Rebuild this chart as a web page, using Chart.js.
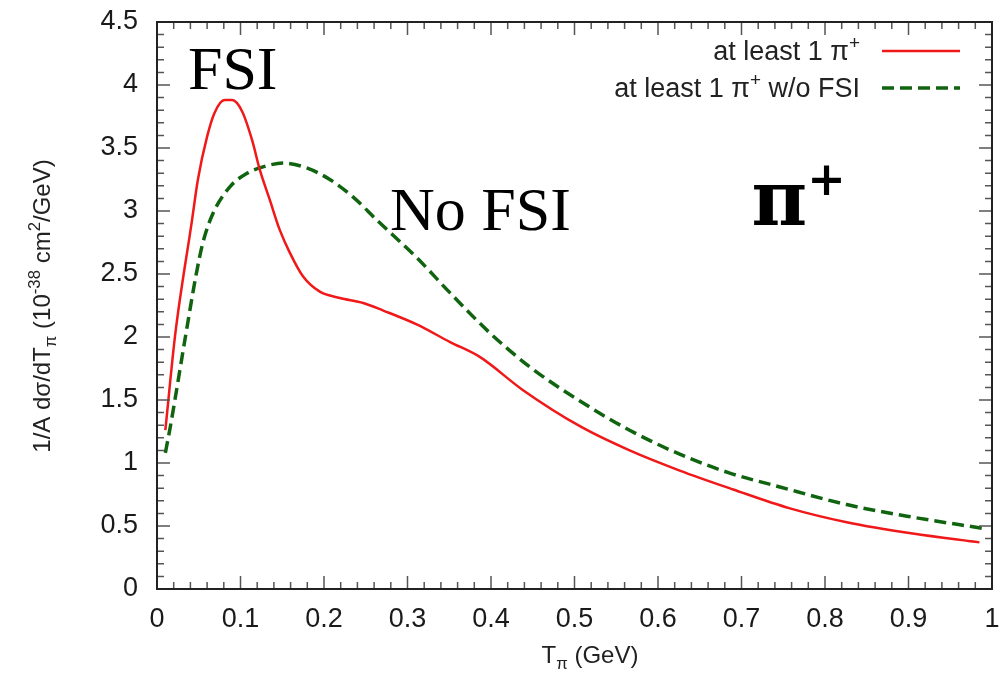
<!DOCTYPE html>
<html>
<head>
<meta charset="utf-8">
<script src="https://cdn.jsdelivr.net/npm/chart.js@4"></script>
<style>
  html, body { margin: 0; padding: 0; background: #fff; }
  #wrap { width: 1000px; height: 678px; }
</style>
</head>
<body>
<div id="wrap"><canvas id="chart" width="1000" height="678"></canvas></div>
<script>
// T_pi values (GeV) and cross sections
const fsiT   = [0.010, 0.022, 0.042, 0.049, 0.060, 0.069, 0.081, 0.090, 0.102, 0.114, 0.123, 0.135, 0.147, 0.159, 0.175, 0.195, 0.219, 0.247, 0.271, 0.311, 0.351, 0.387, 0.438, 0.507, 0.566, 0.626, 0.690, 0.758, 0.826, 0.905, 0.985];
const fsiY   = [1.26, 2.03, 2.93, 3.25, 3.59, 3.78, 3.88, 3.88, 3.79, 3.56, 3.33, 3.09, 2.85, 2.67, 2.48, 2.36, 2.31, 2.27, 2.21, 2.10, 1.96, 1.84, 1.58, 1.29, 1.10, 0.94, 0.79, 0.64, 0.53, 0.44, 0.37];
const noFsiT = [0.010, 0.016, 0.034, 0.047, 0.055, 0.067, 0.087, 0.108, 0.127, 0.151, 0.180, 0.207, 0.235, 0.263, 0.311, 0.351, 0.399, 0.447, 0.507, 0.566, 0.626, 0.686, 0.746, 0.826, 0.905, 0.990];
const noFsiY = [1.08, 1.29, 2.00, 2.50, 2.75, 2.98, 3.19, 3.30, 3.35, 3.38, 3.34, 3.25, 3.11, 2.93, 2.63, 2.35, 2.03, 1.76, 1.49, 1.26, 1.07, 0.92, 0.81, 0.67, 0.57, 0.48];

const xTicks = [0, 0.1, 0.2, 0.3, 0.4, 0.5, 0.6, 0.7, 0.8, 0.9, 1];
const yTicks = [0, 0.5, 1, 1.5, 2, 2.5, 3, 3.5, 4, 4.5];
const xMinorStep = 0.02;
const yMinorStep = 0.1;

const seriesLabels = ['at least 1 \u03c0', 'at least 1 \u03c0'];
const seriesLabelTails = ['', ' w/o FSI'];

// text labels inside the plot, anchored in data units
const notes = [
    { x: 0.037, y: 3.97, text: 'FSI' },
    { x: 0.279, y: 2.85, text: 'No FSI' }
];
const piNote = { x: 0.712, y: 2.89 };

const SANS = '"Liberation Sans", Arial, sans-serif';
const SERIF = '"Liberation Serif", "Times New Roman", serif';
const SERIF_PI = '"DejaVu Serif", serif';

function toPoints(xs, ys) {
    return xs.map((x, i) => ({ x: x, y: ys[i] }));
}

// draws a list of text pieces [{t, mode}] where mode is 'n', 'sup' or 'sub'
function drawRich(ctx, parts, x, y, size) {
    let cx = x;
    parts.forEach(p => {
        let s = size, dy = 0;
        if (p.mode === 'sup') { s = size * 0.7; dy = -size * 0.42; }
        if (p.mode === 'sub') { s = size * 0.7; dy = size * 0.25; }
        ctx.font = s + 'px ' + SANS;
        ctx.fillText(p.t, cx, y + dy);
        cx += ctx.measureText(p.t).width;
    });
    return cx - x;
}

function measureRich(ctx, parts, size) {
    let w = 0;
    parts.forEach(p => {
        const s = p.mode === 'n' ? size : size * 0.7;
        ctx.font = s + 'px ' + SANS;
        w += ctx.measureText(p.t).width;
    });
    return w;
}

// keep chart area fixed: no extra room for half tick labels
function noScalePadding(s) {
    s.paddingLeft = 0;
    s.paddingRight = 0;
    s.paddingTop = 0;
    s.paddingBottom = 0;
}

// frame, inward ticks, axis titles, legend and notes
const decorPlugin = {
    id: 'decor',
    afterDatasetsDraw(chart) {
        const ctx = chart.ctx;
        const a = chart.chartArea;
        const xs = chart.scales.x, ys = chart.scales.y;
        ctx.save();

        // inward ticks on all four sides
        ctx.strokeStyle = '#555';
        ctx.lineWidth = 1.5;
        ctx.beginPath();
        for (let i = 0; i <= 50; i++) {
            const px = xs.getPixelForValue(i * xMinorStep);
            const len = (i % 5 === 0) ? 13 : 7;
            ctx.moveTo(px, a.bottom); ctx.lineTo(px, a.bottom - len);
            ctx.moveTo(px, a.top); ctx.lineTo(px, a.top + len);
        }
        for (let i = 0; i <= 45; i++) {
            const py = ys.getPixelForValue(i * yMinorStep);
            const len = (i % 5 === 0) ? 13 : 7;
            ctx.moveTo(a.left, py); ctx.lineTo(a.left + len, py);
            ctx.moveTo(a.right, py); ctx.lineTo(a.right - len, py);
        }
        ctx.stroke();

        // frame
        ctx.strokeStyle = '#222';
        ctx.lineWidth = 2;
        ctx.strokeRect(a.left, a.top, a.right - a.left, a.bottom - a.top);

        // x axis title
        ctx.fillStyle = '#222';
        ctx.textBaseline = 'alphabetic';
        ctx.textAlign = 'left';
        const xt = [{ t: 'T', mode: 'n' }, { t: '\u03c0', mode: 'sub' }, { t: ' (GeV)', mode: 'n' }];
        const xw = measureRich(ctx, xt, 24);
        drawRich(ctx, xt, 590 - xw / 2, 663, 24);

        // y axis title, rotated
        const yt = [
            { t: '1/A d\u03c3/dT', mode: 'n' }, { t: '\u03c0', mode: 'sub' },
            { t: ' (10', mode: 'n' }, { t: '-38', mode: 'sup' },
            { t: ' cm', mode: 'n' }, { t: '2', mode: 'sup' }, { t: '/GeV)', mode: 'n' }
        ];
        const yw = measureRich(ctx, yt, 24);
        ctx.save();
        ctx.translate(50, 306);
        ctx.rotate(-Math.PI / 2);
        drawRich(ctx, yt, -yw / 2, 0, 24);
        ctx.restore();

        // legend
        chart.data.datasets.forEach((ds, i) => {
            const rowY = a.top + 29 + i * 37;
            const parts = [{ t: seriesLabels[i], mode: 'n' }, { t: '+', mode: 'sup' }, { t: seriesLabelTails[i], mode: 'n' }];
            const w = measureRich(ctx, parts, 27);
            ctx.fillStyle = '#222';
            drawRich(ctx, parts, a.right - 132 - w, rowY + 9, 27);
            ctx.strokeStyle = ds.borderColor;
            ctx.lineWidth = ds.borderWidth;
            ctx.setLineDash(ds.borderDash || []);
            ctx.beginPath();
            ctx.moveTo(a.right - 110, rowY);
            ctx.lineTo(a.right - 32, rowY);
            ctx.stroke();
            ctx.setLineDash([]);
        });

        // notes
        ctx.fillStyle = '#000';
        ctx.font = '62px ' + SERIF;
        notes.forEach(n => {
            ctx.fillText(n.text, xs.getPixelForValue(n.x), ys.getPixelForValue(n.y));
        });
        const px = xs.getPixelForValue(piNote.x), py = ys.getPixelForValue(piNote.y);
        ctx.font = 'bold 76px ' + SERIF_PI;
        ctx.fillText('\u03c0', px, py);
        const pw = ctx.measureText('\u03c0').width;
        ctx.font = 'bold 46px ' + SERIF_PI;
        ctx.fillText('+', px + pw, py - 30);

        ctx.restore();
    }
};

const ctx = document.getElementById('chart').getContext('2d');
new Chart(ctx, {
    type: 'scatter',
    data: {
        datasets: [
            {
                label: 'at least 1 \u03c0+',
                data: toPoints(fsiT, fsiY),
                showLine: true,
                borderColor: '#f01818',
                borderWidth: 2.5,
                pointRadius: 0,
                cubicInterpolationMode: 'monotone',
                fill: false
            },
            {
                label: 'at least 1 \u03c0+ w/o FSI',
                data: toPoints(noFsiT, noFsiY),
                showLine: true,
                borderColor: '#106410',
                borderWidth: 3.5,
                borderDash: [12, 6],
                pointRadius: 0,
                cubicInterpolationMode: 'monotone',
                fill: false
            }
        ]
    },
    options: {
        responsive: false,
        animation: false,
        devicePixelRatio: 1,
        layout: { padding: { top: 22, right: 8, left: 0, bottom: 0 } },
        plugins: {
            legend: { display: false },
            tooltip: { enabled: false }
        },
        scales: {
            x: {
                type: 'linear',
                min: 0,
                max: 1,
                afterBuildTicks: s => { s.ticks = xTicks.map(v => ({ value: v })); },
                afterFit: s => { s.height = 89; noScalePadding(s); },
                grid: { display: false, drawTicks: false },
                border: { display: false },
                ticks: {
                    padding: 14,
                    color: '#1a1a1a',
                    font: { family: SANS, size: 27 },
                    maxRotation: 0,
                    callback: v => String(v)
                }
            },
            y: {
                type: 'linear',
                min: 0,
                max: 4.5,
                afterBuildTicks: s => { s.ticks = yTicks.map(v => ({ value: v })); },
                afterFit: s => { s.width = 157; noScalePadding(s); },
                grid: { display: false, drawTicks: false },
                border: { display: false },
                ticks: {
                    padding: 19,
                    color: '#1a1a1a',
                    font: { family: SANS, size: 27 },
                    callback: v => String(v)
                }
            }
        }
    },
    plugins: [decorPlugin]
});
</script>
</body>
</html>
